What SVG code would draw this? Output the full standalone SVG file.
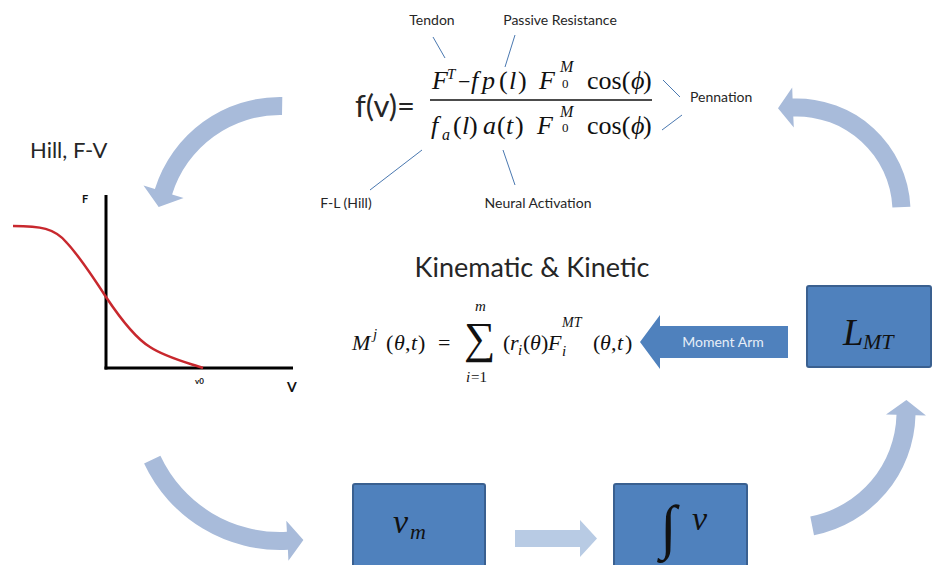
<svg xmlns="http://www.w3.org/2000/svg" width="933" height="565" viewBox="0 0 933 565">
<style>
.lbl{font-family:Lato,"Liberation Sans",sans-serif;fill:#262626}
.math{font-family:"Liberation Serif",serif;font-style:italic;fill:#111}
.up{font-family:"Liberation Serif",serif;font-style:normal;fill:#111}
.lead{stroke:#4a78b0;stroke-width:1;fill:none}
.flow{fill:#a8bbda}
.box{fill:#4f81bd;stroke:#3a6090;stroke-width:2}
.boxt{font-family:"Liberation Serif",serif;font-style:italic;fill:#111}
</style>
<rect width="933" height="565" fill="#ffffff"/>

<g id="connectors">
<path class="flow" d="M282.3,97 A131,131 0 0 0 154.9,189 L143.5,185.5 L158.7,207 L183.6,198 L172.1,194.4 A113,113 0 0 1 282,115 Z"/>
<path class="flow" d="M910.4,206.7 A113.5,113.5 0 0 0 792.6,98.6 L792.2,87.6 L778,108.2 L793.8,127.6 L793.3,116.6 A95.5,95.5 0 0 1 892.4,207.5 Z"/>
<path class="flow" d="M144.1,463.4 A150,150 0 0 0 287.9,549.8 L288.4,560.8 L303.4,540 L286.3,520.8 L286.9,531.8 A132,132 0 0 1 160.4,455.8 Z"/>
<path class="flow" d="M814,535.2 A125.5,125.5 0 0 0 915.5,415.3 L926,415.6 L906.4,400 L886,414.5 L896.5,414.8 A106.5,106.5 0 0 1 810.3,516.5 Z"/>
<polygon fill="#b8cbe4" points="515,530 580,530 580,520 597,538.5 580,557 580,547 515,547"/>
<g id="moment-arm">
<polygon fill="#4f81bd" points="788,326 660,326 660,315 640,342 660,369 660,358 788,358"/>
<text x="723" y="347" text-anchor="middle" font-family="Lato,'Liberation Sans',sans-serif" font-size="14" fill="#e6eef8">Moment Arm</text>
</g>
<line class="lead" x1="433" y1="37" x2="445" y2="58"/>
<line class="lead" x1="515" y1="35" x2="505" y2="67"/>
<line class="lead" x1="663" y1="80" x2="680" y2="97"/>
<line class="lead" x1="662" y1="130" x2="682" y2="115"/>
<line class="lead" x1="370" y1="190" x2="422" y2="150"/>
<line class="lead" x1="503" y1="150" x2="515" y2="185"/>
</g>

<g id="fv-equation">
<text class="lbl" x="355" y="117" font-size="31" fill="#111">f(v)=</text>
<line x1="430" y1="100" x2="652" y2="100" stroke="#111" stroke-width="1.5"/>
<text class="math" x="432" y="89" font-size="26">F</text>
<text class="math" x="447" y="79" font-size="15">T</text>
<text class="up" x="458" y="89" font-size="22">−</text>
<text class="math" x="471" y="89" font-size="26">f</text>
<text class="math" x="482" y="89" font-size="26">p</text>
<text class="up" x="499" y="89" font-size="26">(</text>
<text class="math" x="509" y="89" font-size="26">l</text>
<text class="up" x="518" y="89" font-size="26">)</text>
<text class="math" x="539" y="89" font-size="26">F</text>
<text class="math" x="560" y="72" font-size="16">M</text>
<text class="up" x="562" y="88" font-size="13">0</text>
<text class="up" x="587" y="89" font-size="26">cos(</text>
<text class="math" x="631" y="89" font-size="26">ϕ</text>
<text class="up" x="643" y="89" font-size="26">)</text>

<text class="math" x="431" y="134" font-size="26">f</text>
<text class="math" x="442" y="140" font-size="16">a</text>
<text class="up" x="453" y="134" font-size="26">(</text>
<text class="math" x="462" y="134" font-size="26">l</text>
<text class="up" x="469" y="134" font-size="26">)</text>
<text class="math" x="483" y="134" font-size="26">a</text>
<text class="up" x="497" y="134" font-size="26">(</text>
<text class="math" x="506" y="134" font-size="26">t</text>
<text class="up" x="515" y="134" font-size="26">)</text>
<text class="math" x="537" y="134" font-size="26">F</text>
<text class="math" x="560" y="117" font-size="16">M</text>
<text class="up" x="562" y="132" font-size="13">0</text>
<text class="up" x="587" y="134" font-size="26">cos(</text>
<text class="math" x="631" y="134" font-size="26">ϕ</text>
<text class="up" x="643" y="134" font-size="26">)</text>
</g>

<g id="labels">
<text class="lbl" x="432" y="25" font-size="14" text-anchor="middle">Tendon</text>
<text class="lbl" x="560" y="25" font-size="14" text-anchor="middle">Passive Resistance</text>
<text class="lbl" x="690" y="102" font-size="14">Pennation</text>
<text class="lbl" x="346" y="208" font-size="14" text-anchor="middle">F-L (Hill)</text>
<text class="lbl" x="538" y="208" font-size="14" text-anchor="middle">Neural Activation</text>
</g>

<g id="hill-fv">
<text class="lbl" x="30" y="158" font-size="22">Hill, F-V</text>
<line x1="106" y1="195" x2="106" y2="369.5" stroke="#000" stroke-width="3"/>
<line x1="104.5" y1="368" x2="293" y2="368" stroke="#000" stroke-width="3"/>
<text x="82" y="203" font-family="Lato,'Liberation Sans',sans-serif" font-weight="bold" font-size="11" fill="#111">F</text>
<text x="287" y="392" font-family="Lato,'Liberation Sans',sans-serif" font-weight="bold" font-size="14" fill="#111">V</text>
<text x="195" y="384" font-family="Lato,'Liberation Sans',sans-serif" font-weight="bold" font-size="8" fill="#111">v0</text>
<path d="M13,226 C40,226 55,228 67,243 C80,257 95,280 106,297 C118,315 135,338 150,347 C165,357 185,362 203,368" fill="none" stroke="#c8282e" stroke-width="2.5"/>
</g>

<g id="kinematic">
<text class="lbl" x="532" y="277" font-size="27" text-anchor="middle" fill="#111">Kinematic &amp; Kinetic</text>
<text class="math" x="352" y="350" font-size="22">M</text>
<text class="math" x="373" y="339" font-size="15">j</text>
<text class="up" x="386" y="350" font-size="22">(</text>
<text class="math" x="394" y="350" font-size="22">θ</text>
<text class="up" x="405" y="350" font-size="22">,</text>
<text class="math" x="411" y="350" font-size="22">t</text>
<text class="up" x="418" y="350" font-size="22">)</text>
<text class="up" x="438" y="350" font-size="22">=</text>
<text class="up" x="464" y="353" font-size="44">∑</text>
<text class="math" x="475" y="311" font-size="15">m</text>
<text class="math" x="466" y="382" font-size="15">i</text>
<text class="up" x="471" y="382" font-size="15">=1</text>
<text class="up" x="503" y="350" font-size="22">(</text>
<text class="math" x="510" y="350" font-size="22">r</text>
<text class="math" x="518" y="355" font-size="15">i</text>
<text class="up" x="523" y="350" font-size="22">(</text>
<text class="math" x="530" y="350" font-size="22">θ</text>
<text class="up" x="541" y="350" font-size="22">)</text>
<text class="math" x="548" y="350" font-size="22">F</text>
<text class="math" x="562" y="356" font-size="15">i</text>
<text class="math" x="562" y="327" font-size="14">MT</text>
<text class="up" x="593" y="350" font-size="22">(</text>
<text class="math" x="600" y="350" font-size="22">θ</text>
<text class="up" x="611" y="350" font-size="22">,</text>
<text class="math" x="617" y="350" font-size="22">t</text>
<text class="up" x="625" y="350" font-size="22">)</text>
</g>

<g id="lmt">
<rect class="box" x="807" y="286" width="124" height="81" rx="2"/>
<text class="boxt" x="843" y="345" font-size="37">L</text>
<text class="boxt" x="863" y="349" font-size="22">MT</text>
</g>

<g id="vm">
<rect class="box" x="353" y="484" width="132" height="90" rx="2"/>
<text class="boxt" x="393" y="533" font-size="34">v</text>
<text class="boxt" x="410" y="539" font-size="22">m</text>
</g>

<g id="integral-v">
<rect class="box" x="614" y="484" width="133" height="90" rx="2"/>
<text class="up" x="660" y="547" font-size="60">∫</text>
<text class="boxt" x="692" y="530" font-size="34">v</text>
</g>
</svg>
